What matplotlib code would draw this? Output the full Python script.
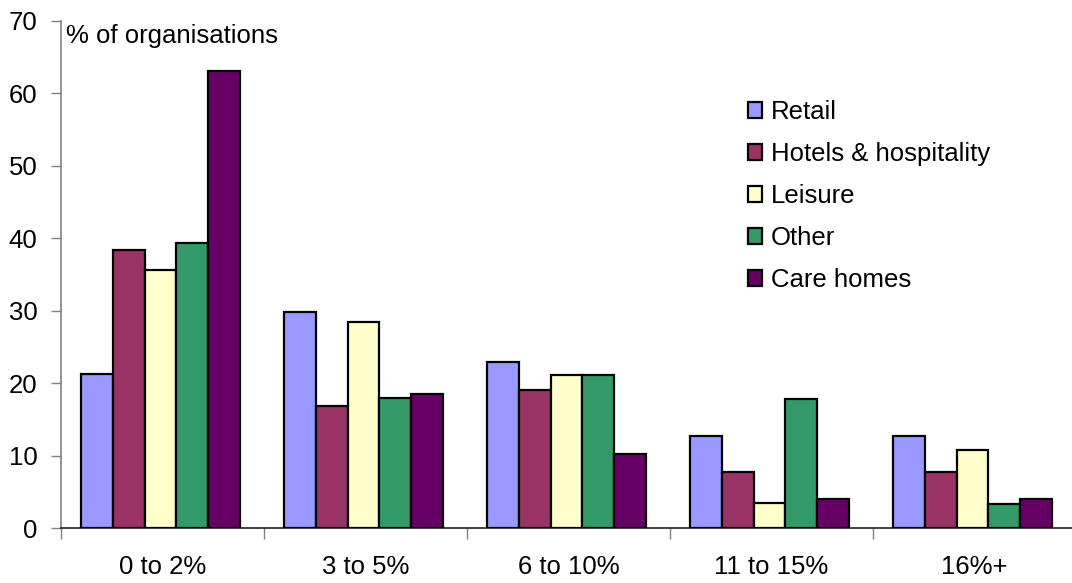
import numpy as np
import matplotlib
matplotlib.use("Agg")
import matplotlib.pyplot as plt

plt.rcParams['font.family'] = ['Liberation Sans', 'DejaVu Sans']

categories = ["0 to 2%", "3 to 5%", "6 to 10%", "11 to 15%", "16%+"]
series_names = ["Retail", "Hotels & hospitality", "Leisure", "Other", "Care homes"]
retail = [21.3, 29.9, 23.0, 12.7, 12.7]
hotels = [38.4, 16.9, 19.1, 7.7, 7.7]
leisure = [35.6, 28.5, 21.2, 3.5, 10.8]
other = [39.3, 18.0, 21.2, 17.9, 3.3]
care_homes = [63.1, 18.5, 10.2, 4.1, 4.1]
colors = ["#9999FF", "#993366", "#FFFFCC", "#339966", "#660066"]
y_ticks = [0, 10, 20, 30, 40, 50, 60, 70]

FS = 18.5
W, H = 1072, 583
fig = plt.figure(figsize=(W / 100, H / 100), dpi=100)
left, right, bottom, top = 61, 1076, 583 - 528.3, 583 - 21
ax = fig.add_axes([left / W, bottom / H, (right - left) / W, (top - bottom) / H])

series = [retail, hotels, leisure, other, care_homes]
x = np.arange(len(categories))
bw = 0.156
offsets = (np.arange(len(series)) - 2) * bw - 0.01
for vals, name, col, off in zip(series, series_names, colors, offsets):
    ax.bar(x + off, vals, width=bw, color=col, edgecolor="black",
           linewidth=1.6, label=name, zorder=3)

ax.set_xlim(-0.5, len(categories) - 0.5)
ax.set_ylim(0, 70)
ax.set_yticks(y_ticks)
ax.tick_params(axis="y", labelsize=FS, length=7, width=1, color="#808080",
               direction="out", pad=10)
ax.set_xticks(x)
ax.set_xticklabels(categories, fontsize=FS)
ax.tick_params(axis="x", length=0, pad=19)
ax.set_xticks(np.arange(len(categories) + 1) - 0.5, minor=True)
ax.tick_params(axis="x", which="minor", length=8, width=1, color="#808080",
               direction="out")

for s in ["top", "right"]:
    ax.spines[s].set_visible(False)
ax.spines["left"].set_color("#808080")
ax.spines["left"].set_linewidth(1.2)
ax.spines["bottom"].set_color("#222222")
ax.spines["bottom"].set_linewidth(1.2)

fig.text(66 / W, 1 - 36 / H, "% of organisations",
         fontsize=FS, ha="left", va="center")

ax.legend(loc="upper left", bbox_to_anchor=(748 / W, 1 - 100 / H),
          bbox_transform=fig.transFigure, frameon=False, fontsize=FS,
          handlelength=0.55, handleheight=0.55, handletextpad=0.35,
          labelspacing=0.7, borderpad=0, borderaxespad=0)

fig.savefig("out.png", dpi=100)
